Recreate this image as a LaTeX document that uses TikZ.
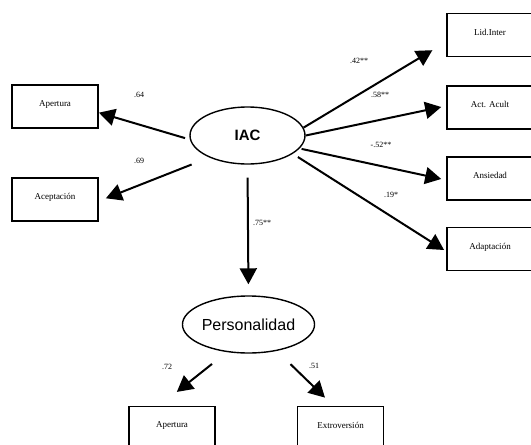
\documentclass[tikz,border=0pt]{standalone}
\usepackage{fontspec}
\setmainfont{Liberation Serif}
\newfontfamily\latfont{Liberation Sans}
\usetikzlibrary{arrows.meta,shapes.geometric}

\begin{document}
\begin{tikzpicture}[x=1pt, y=-1pt,
    box/.style={rectangle, draw, line width=1.8pt, minimum width=86pt, minimum height=43pt, inner sep=0pt, text depth=6pt, font=\fontsize{9}{10}\selectfont},
    latent/.style={ellipse, draw, line width=1.4pt, minimum width=115pt, minimum height=57pt, inner sep=0pt},
    arr/.style={line width=2pt, -{Triangle[length=16pt 0, width=17pt 0]}},
    coef/.style={font=\fontsize{8}{9}\selectfont, inner sep=0pt}]

    \useasboundingbox (0,0) rectangle (531,445);

    % Latent variables
    \node[latent, font=\latfont\fontsize{15}{17}\selectfont\bfseries] (iac) at (247.5,135.5) {IAC};
    \node[latent, font=\latfont\fontsize{16}{18}\selectfont] (pers) at (248.5,324.5) {Personalidad};

    % Indicators
    \node[box] (ap1) at (55,106.5) {Apertura};
    \node[box] (acep) at (55,199.5) {Aceptación};
    \node[box] (lid) at (490,35) {Lid.Inter};
    \node[box] (act) at (490,107.5) {Act. Acult};
    \node[box] (ans) at (490,178.5) {Ansiedad};
    \node[box] (adap) at (490,249) {Adaptación};
    \node[box] (ap2) at (172,428) {Apertura};
    \node[box] (ext) at (340.5,428) {Extroversión};

    % Paths
    \draw[arr, shorten <=5pt] (iac.184) -- (ap1.352);
    \draw[arr, shorten <=19pt, shorten >=7.5pt] (iac.210) -- (acep.358);
    \draw[arr, shorten >=16pt] (iac.8) -- (lid.189);
    \draw[arr, shorten >=5pt] (iac.0) -- (act.178);
    \draw[arr, shorten <=2pt, shorten >=5pt] (iac.346) -- (ans.182);
    \draw[arr, shorten <=6pt, shorten >=2.4pt] (iac.338) -- (adap.183);
    \draw[arr, shorten <=13pt, shorten >=11pt] (iac.south) -- (pers.north);
    \draw[arr, shorten <=19pt, shorten >=22pt] (pers.232) -- (ap2.119);
    \draw[arr, shorten <=19pt, shorten >=11.5pt] (pers.317) -- (ext.108);

    % Coefficients
    \node[coef] (c1) at (139,95) {.64};
    \node[coef] (c2) at (139,161) {.69};
    \node[coef] (c3) at (359,61) {.42**};
    \node[coef] (c4) at (380,95) {.58**};
    \node[coef] (c5) at (381,145) {-.52**};
    \node[coef] (c6) at (391,195) {.19*};
    \node[coef] (c7) at (262,223) {.75**};
    \node[coef] (c8) at (167,367) {.72};
    \node[coef] (c9) at (314,366) {.51};

\end{tikzpicture}
\end{document}
